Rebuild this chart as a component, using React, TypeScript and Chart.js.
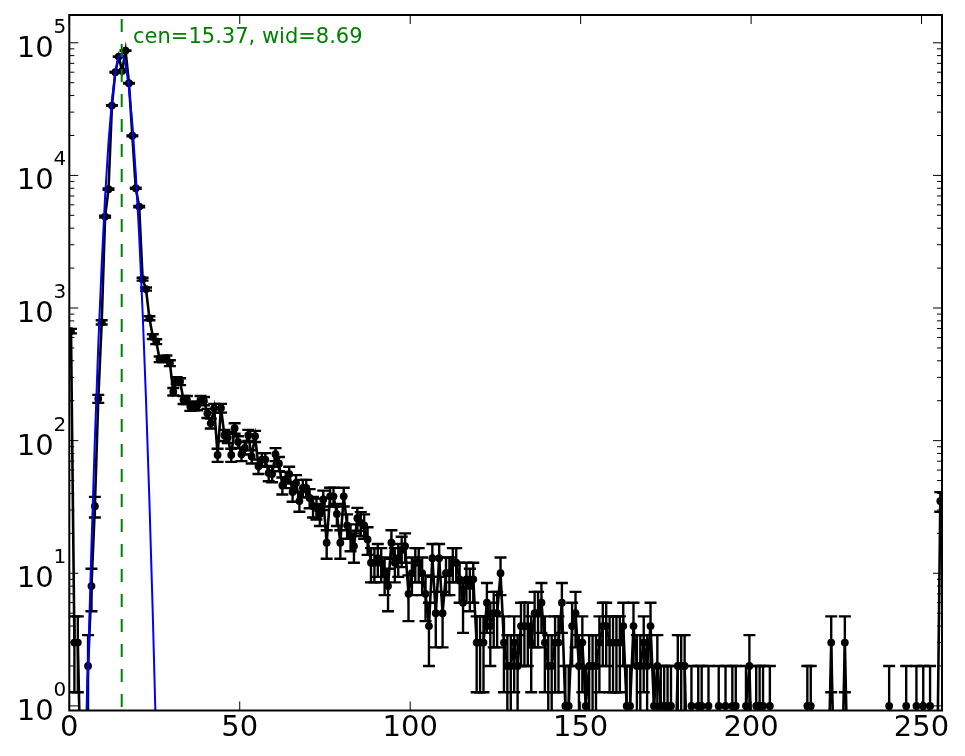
import { useEffect, useRef } from "react";
import { Chart, registerables } from "chart.js";

Chart.register(...registerables);

// ---- data ----
// counts per channel; channel i is drawn at bin centre i + 0.5
const counts: number[] = [
  670, 3, 3, 0, 0, 2, 8, 32, 207, 780,
  4890, 7870, 33600, 60000, 78700, 61400, 87300, 49600, 19900, 8000,
  5820, 1650, 1390, 838, 609, 558, 411, 411, 418, 384,
  234, 284, 279, 203, 203, 181, 183, 183, 203, 199,
  161, 135, 176, 78, 176, 110, 106, 78, 124, 98,
  79, 88, 110, 76, 108, 64, 72, 72, 57, 56,
  79, 67, 46, 51, 56, 41, 48, 35, 44, 44,
  37, 32, 31, 28, 36, 17, 38, 38, 28, 17,
  38, 23, 19, 16, 26, 24, 23, 18, 12, 12,
  13, 12, 10, 8, 17, 12, 13, 15, 16, 7,
  10, 12, 12, 10, 7, 4, 13, 5, 13, 5,
  10, 10, 12, 12, 9, 6, 9, 8, 9, 3,
  3, 3, 6, 4, 5, 5, 10, 3, 2, 2,
  3, 2, 4, 4, 4, 3, 5, 5, 6, 3,
  2, 2, 3, 3, 6, 1, 1, 4, 5, 2,
  3, 1, 2, 2, 2, 3, 4, 4, 3, 3,
  3, 3, 4, 1, 1, 4, 2, 2, 3, 2,
  4, 1, 2, 1, 1, 1, 1, 0, 2, 2,
  2, 0, 1, 0, 1, 1, 0, 1, 0, 0,
  1, 0, 1, 0, 1, 1, 0, 0, 1, 2,
  0, 1, 1, 1, 0, 1, 0, 0, 0, 0,
  0, 0, 0, 0, 0, 0, 1, 1, 0, 0,
  0, 0, 0, 3, 0, 0, 0, 3, 0, 0,
  0, 0, 0, 0, 0, 0, 0, 0, 0, 0,
  1, 0, 0, 0, 0, 1, 0, 0, 1, 0,
  1, 0, 1, 0, 0, 35,
];
const binOffset = 0.5;

// gaussian fit curve (blue)
const fitX: number[] = [
  4.5, 5.5, 6.5, 7.5, 8.5, 9.5, 10.5, 11.5, 12.5, 13.5, 14.5, 15.5,
  16.5, 17.5, 18.5, 19.5, 20.5, 21.5, 22.5, 23.5, 24.5, 25.5, 26.5,
];
const fitY: number[] = [
  0.2, 2.0, 16, 102, 525, 2130, 6900, 17800, 36600, 60000, 78700, 82400,
  68700, 45800, 24300, 10300, 3500, 944, 204, 35, 4.8, 0.52, 0.046,
];

const fitCenter = 15.37;
const fitWidth = 8.69;
const annotationX = 18.7;
const annotationY = 1e5;

const xTicks: number[] = [0, 50, 100, 150, 200, 250];
const yDecades: number[] = [0, 1, 2, 3, 4, 5];
const xMin = 0;
const xMax = 256;
const yMin = 0.923;
const yMax = 1.62e5;

// ---- styling ----
const FONT = '"DejaVu Sans", "Liberation Sans", sans-serif';
const LOG_CLIP = 0.2; // where empty channels land below the axis (as in the reference)
const CAP = 6;

const errorBarPlugin = {
  id: "errorBars",
  beforeDatasetsDraw(chart: any) {
    const { ctx, chartArea: a, scales } = chart;
    const x = scales.x;
    const y = scales.y;
    ctx.save();
    ctx.beginPath();
    ctx.rect(a.left, a.top, a.right - a.left, a.bottom - a.top);
    ctx.clip();
    ctx.strokeStyle = "#000";
    ctx.lineWidth = 2.4;
    ctx.lineCap = "butt";
    counts.forEach((n, i) => {
      if (n <= 0) return;
      const e = Math.sqrt(n);
      const px = x.getPixelForValue(i + binOffset);
      const top = y.getPixelForValue(n + e);
      const lo = n - e;
      const bot = lo > 0 ? y.getPixelForValue(lo) : a.bottom + 20;
      ctx.beginPath();
      ctx.moveTo(px, top);
      ctx.lineTo(px, bot);
      ctx.moveTo(px - CAP, top);
      ctx.lineTo(px + CAP, top);
      if (lo > 0) {
        ctx.moveTo(px - CAP, bot);
        ctx.lineTo(px + CAP, bot);
      }
      ctx.stroke();
    });
    ctx.restore();
  },
  afterDatasetsDraw(chart: any) {
    const { ctx, scales } = chart;
    ctx.save();
    ctx.fillStyle = "#008000";
    ctx.font = `21px ${FONT}`;
    ctx.textAlign = "left";
    ctx.textBaseline = "alphabetic";
    ctx.fillText(
      `cen=${fitCenter.toFixed(2)}, wid=${fitWidth.toFixed(2)}`,
      scales.x.getPixelForValue(annotationX),
      scales.y.getPixelForValue(annotationY)
    );
    ctx.restore();
  },
};

const framePlugin = {
  id: "frame",
  afterDraw(chart: any) {
    const { ctx, chartArea: a, scales } = chart;
    const x = scales.x;
    const y = scales.y;
    ctx.save();
    // ticks (inward, all four sides)
    ctx.strokeStyle = "#000";
    ctx.lineWidth = 1;
    ctx.beginPath();
    const MAJ = 9;
    const MIN = 5;
    xTicks.forEach((t) => {
      const px = x.getPixelForValue(t);
      ctx.moveTo(px, a.bottom);
      ctx.lineTo(px, a.bottom - MAJ);
      ctx.moveTo(px, a.top);
      ctx.lineTo(px, a.top + MAJ);
    });
    yDecades.forEach((d) => {
      const base = Math.pow(10, d);
      const py = y.getPixelForValue(base);
      ctx.moveTo(a.left, py);
      ctx.lineTo(a.left + MAJ, py);
      ctx.moveTo(a.right, py);
      ctx.lineTo(a.right - MAJ, py);
      for (let m = 2; m <= 9; m++) {
        const v = m * base;
        if (v > yMax || v < yMin) continue;
        const pm = y.getPixelForValue(v);
        ctx.moveTo(a.left, pm);
        ctx.lineTo(a.left + MIN, pm);
        ctx.moveTo(a.right, pm);
        ctx.lineTo(a.right - MIN, pm);
      }
    });
    ctx.stroke();

    // frame
    ctx.lineWidth = 2;
    ctx.strokeRect(a.left, a.top, a.right - a.left, a.bottom - a.top);

    // x labels
    ctx.fillStyle = "#000";
    ctx.font = `29px ${FONT}`;
    ctx.textAlign = "center";
    ctx.textBaseline = "alphabetic";
    xTicks.forEach((t) => {
      ctx.fillText(String(t), x.getPixelForValue(t), a.bottom + 25);
    });

    // y labels 10^d
    const labelRight = a.left - 15.7;
    yDecades.forEach((d) => {
      const py = y.getPixelForValue(Math.pow(10, d));
      ctx.font = `29px ${FONT}`;
      ctx.textAlign = "right";
      ctx.fillText("10", labelRight, py + 14);
      ctx.font = `20px ${FONT}`;
      ctx.textAlign = "left";
      ctx.fillText(String(d), labelRight, py - 10);
    });
    ctx.restore();
  },
};

export default function App() {
  const canvasRef = useRef<HTMLCanvasElement | null>(null);

  useEffect(() => {
    const canvas = canvasRef.current;
    if (!canvas) return;
    const points = counts.map((n, i) => ({
      x: i + binOffset,
      y: n > 0 ? n : LOG_CLIP,
    }));
    const fit = fitX.map((v, i) => ({ x: v, y: fitY[i] }));
    const centerLine = [
      { x: fitCenter, y: yMin },
      { x: fitCenter, y: yMax },
    ];
    const chart = new Chart(canvas, {
      type: "line",
      data: {
        datasets: [
          {
            data: points,
            borderColor: "#000",
            borderWidth: 2.6,
            pointRadius: 3.9,
            pointBackgroundColor: "#000",
            pointBorderColor: "#000",
            pointBorderWidth: 0,
            tension: 0,
            order: 3,
          },
          {
            data: fit,
            borderColor: "#0000ff",
            borderWidth: 2,
            pointRadius: 0,
            tension: 0,
            order: 2,
          },
          {
            data: centerLine,
            borderColor: "#008000",
            borderWidth: 2,
            borderDash: [13, 12],
            borderDashOffset: 21.5,
            pointRadius: 0,
            tension: 0,
            order: 1,
          },
        ],
      },
      options: {
        animation: false,
        responsive: false,
        maintainAspectRatio: false,
        events: [],
        layout: { padding: { left: 69.3, right: 23, top: 15, bottom: 45.5 } },
        scales: {
          x: { type: "linear", min: xMin, max: xMax, display: false },
          y: { type: "logarithmic", min: yMin, max: yMax, display: false },
        },
        plugins: {
          legend: { display: false },
          tooltip: { enabled: false },
        },
      },
      plugins: [errorBarPlugin, framePlugin],
    } as any);
    return () => chart.destroy();
  }, []);

  return (
    <div style={{ position: "absolute", left: 0, top: 0, width: 965, height: 756, background: "#fff" }}>
      <canvas ref={canvasRef} width={965} height={756} style={{ display: "block" }} />
    </div>
  );
}
